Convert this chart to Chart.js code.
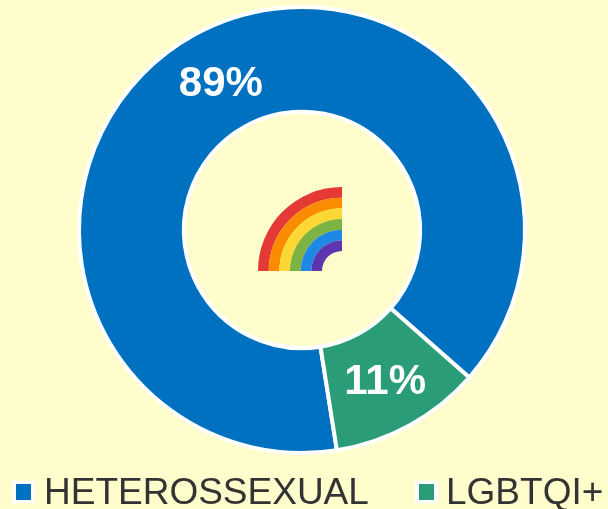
<!DOCTYPE html>
<html><head><meta charset="utf-8">
<style>html,body{margin:0;padding:0;background:#FFFDCC}#w{width:608px;height:509px;position:relative}</style>
<script src="https://cdn.jsdelivr.net/npm/chart.js@4"></script>
</head><body><div id="w"><canvas id="c" width="608" height="509"></canvas></div>
<script>
const categories = ["HETEROSSEXUAL", "LGBTQI+"];
const shares = [89, 11];
const sliceColors = ["#0070C0", "#2A9D78"];
const rainbowColors = ["#E53935", "#FB8C00", "#FDD835", "#7CB342", "#1E88E5", "#5E35B1"];
const legendStarts = [12, 415];
const legendTextStarts = [44, 446];

const bg = {id:'bg', beforeDraw(ch){const c=ch.ctx;c.save();c.fillStyle='#FFFDCC';c.fillRect(0,0,ch.width,ch.height);c.restore();}};
const sliceLabels = {id:'sliceLabels', afterDatasetsDraw(ch){
  const c=ch.ctx; c.save();
  c.font='bold 42px "Liberation Sans"'; c.fillStyle='#fff'; c.textAlign='center'; c.textBaseline='alphabetic';
  ch.getDatasetMeta(0).data.forEach((a,i)=>{
    const p=a.tooltipPosition();
    c.fillText(shares[i]+'%',p.x+1,p.y+15);
  });
  c.restore();
}};
const rainbow = {id:'rainbow', afterDatasetsDraw(ch){
  const a=ch.getDatasetMeta(0).data[0]; const c=ch.ctx;
  const ox=a.x+40, oy=a.y+41, inner=20, band=64/rainbowColors.length;
  c.save();
  rainbowColors.forEach((col,i)=>{
    const R=84-i*band;
    c.beginPath();
    c.arc(ox,oy,R,Math.PI,1.5*Math.PI);
    c.arc(ox,oy,R-band,1.5*Math.PI,Math.PI,true);
    c.closePath();
    c.fillStyle=col; c.fill();
  });
  c.restore();
}};
const bottomLegend = {id:'bottomLegend', afterDraw(ch){
  const c=ch.ctx; c.save();
  categories.forEach((t,i)=>{
    const x=legendStarts[i];
    c.fillStyle='#fff'; c.fillRect(x,481,23,22);
    c.fillStyle=sliceColors[i]; c.fillRect(x+4,484,15,16);
    c.fillStyle='#333'; c.font='37px "Liberation Sans"';
    c.textAlign='left'; c.textBaseline='alphabetic';
    c.fillText(t,legendTextStarts[i],504);
  });
  c.restore();
}};
new Chart(document.getElementById('c'),{
  type:'doughnut',
  data:{labels:categories,datasets:[{data:shares,backgroundColor:sliceColors,borderColor:'#fff',borderWidth:4}]},
  options:{
    responsive:false,animation:false,rotation:171,cutout:'53%',
    layout:{padding:{top:5,right:4,bottom:54,left:0}},
    plugins:{tooltip:{enabled:false},legend:{display:false}}
  },
  plugins:[bg,rainbow,sliceLabels,bottomLegend]
});
</script></body></html>
